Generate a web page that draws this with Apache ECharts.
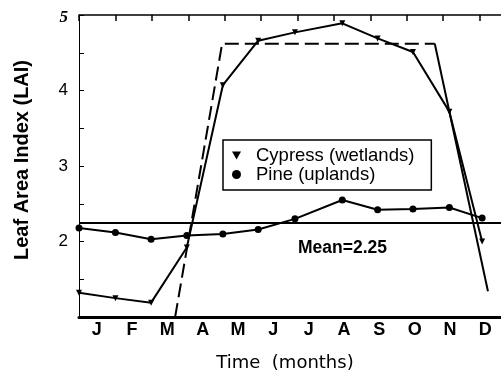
<!DOCTYPE html>
<html>
<head>
<meta charset="utf-8">
<script src="https://cdn.jsdelivr.net/npm/echarts@6/dist/echarts.min.js"></script>
<style>
html,body{margin:0;padding:0;background:#fff;overflow:hidden;}
#chart{width:520px;height:374px;}
</style>
</head>
<body>
<div id="chart"></div>
<script>
// ---- data ----
const months = ['J','F','M','A','M','J','J','A','S','O','N','D'];
const sampleMonth = [0, 1, 1.98, 2.96, 3.95, 4.92, 5.93, 7.23, 8.2, 9.17, 10.17, 11.07];
const cypressLAI = [1.32, 1.25, 1.19, 1.92, 4.07, 4.66, 4.77, 4.89, 4.69, 4.51, 3.72, 2.00];
const pineLAI    = [2.18, 2.12, 2.03, 2.08, 2.10, 2.16, 2.30, 2.55, 2.42, 2.43, 2.45, 2.31];
const meanLAI = 2.25;
// idealised cypress model (dashed rise + plateau, then fall)
const modelRiseMonth = [2.64, 3.93, 9.77];
const modelRiseLAI   = [1.0, 4.62, 4.62];
const modelFallMonth = [9.77, 11.23];
const modelFallLAI   = [4.62, 1.34];
const yTicks = [1, 2, 3, 4, 5];

const pair = (xs, ys) => xs.map((x, i) => [x, ys[i]]);
const FONT = 'Liberation Sans, Arial, sans-serif';
const downTri = 'path://M0,0L10,0L5,9Z';

const chart = echarts.init(document.getElementById('chart'), null, {renderer: 'canvas'});
chart.setOption({
  animation: false,
  backgroundColor: '#fff',
  grid: [
    {left: 79, top: 15, width: 437, bottom: 57, outerBoundsMode: 'none', containLabel: false},
    {left: 79, top: 15, width: 424, bottom: 57, outerBoundsMode: 'none', containLabel: false}
  ],
  xAxis: [
    {type: 'value', gridIndex: 0, min: 0, max: 12, interval: 1, position: 'bottom',
     axisLine: {show: true, onZero: false, lineStyle: {color: '#000', width: 3}},
     axisTick: {show: false}, axisLabel: {show: false}, splitLine: {show: false}},
    {type: 'value', gridIndex: 0, min: 0, max: 12, interval: 1, position: 'top',
     axisLine: {show: true, onZero: false, lineStyle: {color: '#000', width: 1.5}},
     axisTick: {show: true, inside: true, length: 6, lineStyle: {color: '#000', width: 1.5}},
     axisLabel: {show: false}, splitLine: {show: false}},
    {type: 'category', gridIndex: 1, data: months, boundaryGap: true, position: 'bottom',
     axisLine: {show: false}, axisTick: {show: false}, splitLine: {show: false},
     axisLabel: {color: '#000', fontFamily: FONT, fontWeight: 'bold', fontSize: 18, margin: 4, interval: 0},
     name: 'Time  (months)', nameLocation: 'middle', nameGap: 37,
     nameTextStyle: {color: '#000', fontFamily: 'DejaVu Sans', fontSize: 18, padding: [0, 12, 0, 0]}}
  ],
  yAxis: [
    {type: 'value', gridIndex: 0, min: yTicks[0], max: yTicks[yTicks.length - 1], interval: 1,
     axisLine: {show: true, onZero: false, lineStyle: {color: '#000', width: 1}},
     axisTick: {show: true, inside: true, length: 5, lineStyle: {color: '#000'}},
     minorTick: {show: true, splitNumber: 2, length: 5, lineStyle: {color: '#000'}},
     splitLine: {show: false},
     axisLabel: {color: '#000', fontFamily: FONT, fontSize: 17, margin: 11,
       formatter: v => v === 5 ? '{t|5}' : (v === 1 ? '' : String(v)),
       rich: {t: {fontFamily: 'Liberation Serif', fontStyle: 'italic', fontWeight: 'bold', fontSize: 17, color: '#000', padding: [5, 0, 0, 0]}}},
     name: 'Leaf Area Index (LAI)', nameLocation: 'middle', nameGap: 47,
     nameTextStyle: {color: '#000', fontFamily: FONT, fontWeight: 'bold', fontSize: 20, padding: [0, 0, 0, 12]}},
    {type: 'value', gridIndex: 1, min: 1, max: 5, show: false}
  ],
  legend: {
    data: [{name: 'Cypress (wetlands)', icon: downTri}, {name: 'Pine (uplands)', icon: 'circle'}],
    orient: 'vertical', left: 223, top: 140,
    padding: [6, 17, 6, 9], itemGap: 0, itemWidth: 9, itemHeight: 9,
    borderColor: '#000', borderWidth: 1.5, backgroundColor: '#fff',
    textStyle: {color: '#000', fontFamily: FONT, fontSize: 18.5, lineHeight: 19, padding: [0, 0, 0, 10]}
  },
  series: [
    {name: 'model-rise', type: 'line', xAxisIndex: 0, yAxisIndex: 0,
     data: pair(modelRiseMonth, modelRiseLAI), symbol: 'none',
     lineStyle: {color: '#000', width: 2, type: [14, 6]}, z: 2},
    {name: 'model-fall', type: 'line', xAxisIndex: 0, yAxisIndex: 0,
     data: pair(modelFallMonth, modelFallLAI), symbol: 'none',
     lineStyle: {color: '#000', width: 2}, z: 2},
    {name: 'Cypress (wetlands)', type: 'line', xAxisIndex: 0, yAxisIndex: 0,
     data: pair(sampleMonth, cypressLAI), symbol: 'triangle', symbolRotate: 180, symbolSize: 6,
     color: '#000', itemStyle: {color: '#000'}, lineStyle: {color: '#000', width: 2}, z: 3},
    {name: 'Pine (uplands)', type: 'line', xAxisIndex: 0, yAxisIndex: 0,
     data: pair(sampleMonth, pineLAI), symbol: 'circle', symbolSize: 7,
     color: '#000', itemStyle: {color: '#000'}, lineStyle: {color: '#000', width: 2}, z: 3,
     markLine: {silent: true, symbol: 'none', animation: false,
       lineStyle: {color: '#000', width: 2, type: 'solid'},
       label: {show: true, position: 'insideMiddleBottom', formatter: 'Mean=' + meanLAI,
               color: '#000', fontFamily: FONT, fontSize: 17.5, fontWeight: 'bold', distance: 17, offset: [45, 0]},
       data: [{yAxis: meanLAI}]}}
  ]
});
</script>
</body>
</html>
